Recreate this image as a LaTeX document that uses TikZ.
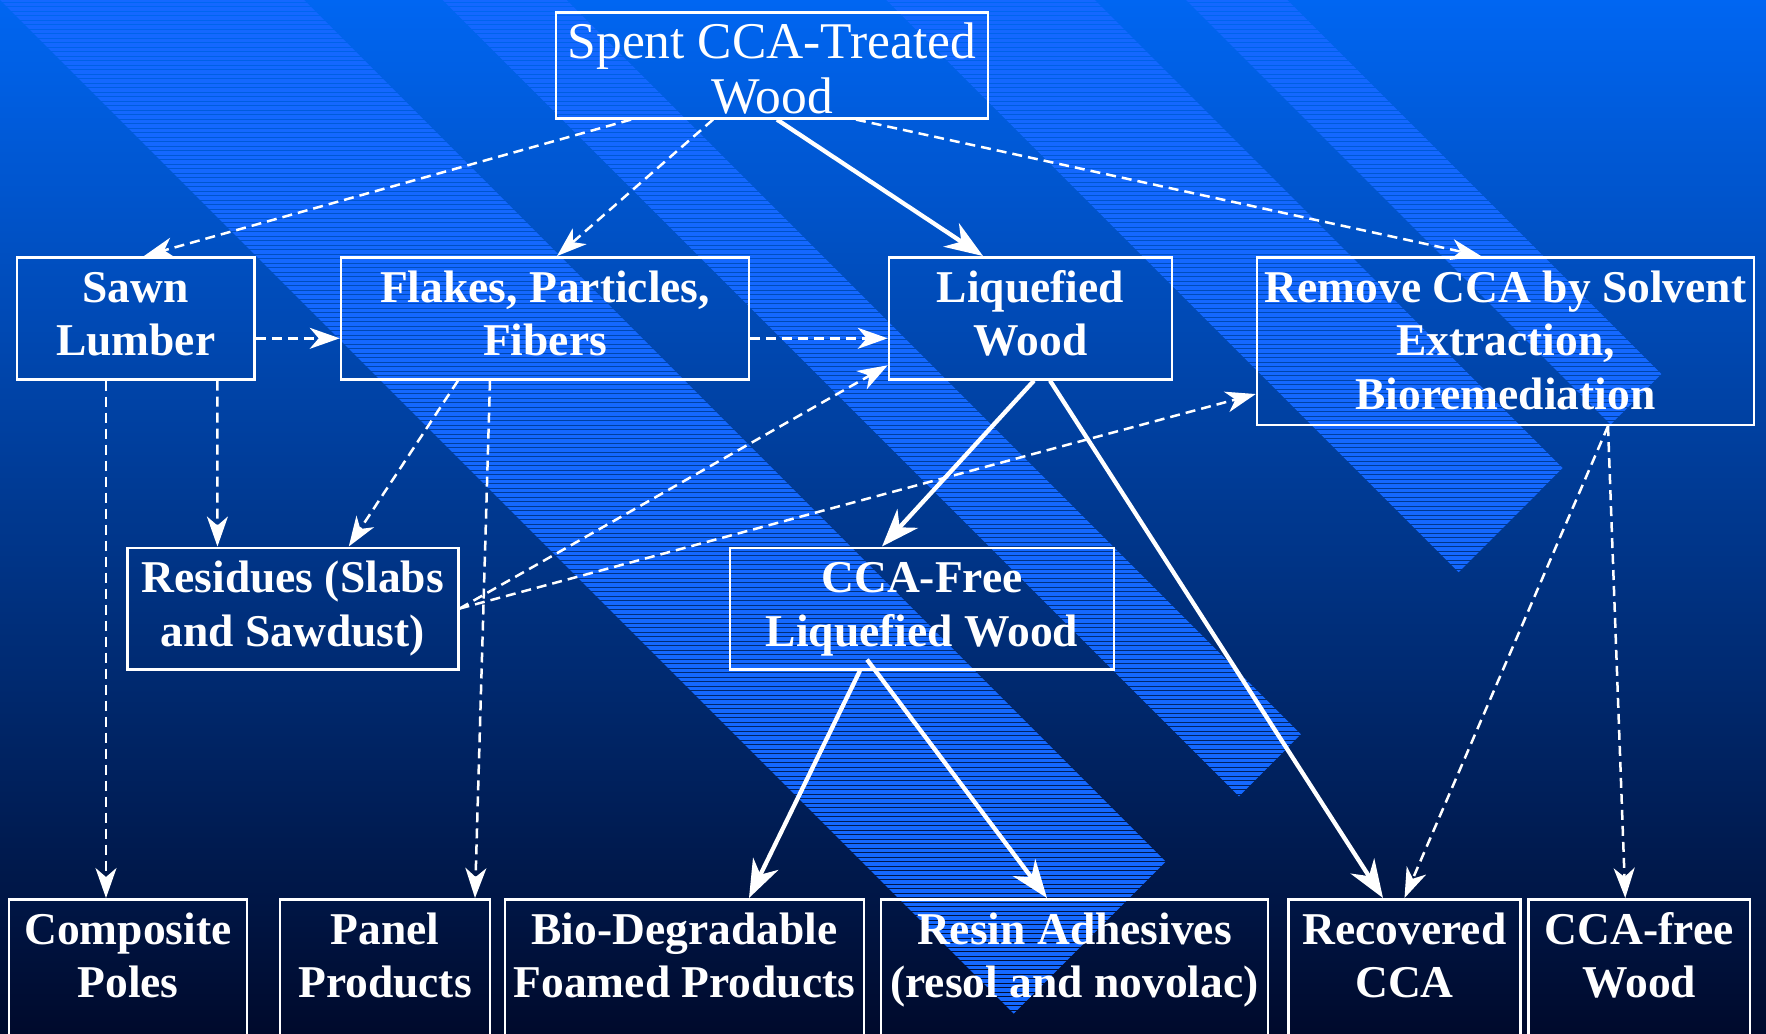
\documentclass[tikz,border=0pt]{standalone}
\usepackage{fontspec}
\setmainfont{Liberation Serif}
\usetikzlibrary{arrows.meta}
\definecolor{bgtop}{RGB}{0,102,242}
\definecolor{bgmid}{RGB}{0,64,168}
\definecolor{bgbot}{RGB}{0,10,44}
\definecolor{stripecol}{RGB}{20,104,255}
\newcommand\myboxfont{\fontsize{45.5}{53.5}\selectfont\bfseries}
\newcommand\mytopfont{\fontsize{51.5}{54.4}\selectfont}
\begin{document}
\begin{tikzpicture}[x=1pt,y=-1pt,
  bbox/.style={draw=white, line width=2.6pt, inner sep=0pt, align=center, text=white, anchor=north, font=\myboxfont, text height=98.5pt},
  solidarr/.style={draw=white, line width=4.3pt, -{Stealth[length=38pt,width=28pt,inset=12pt]}},
  dasharr/.style={draw=white, line width=2.5pt, dash pattern=on 10pt off 6pt, -{Stealth[length=30pt,width=21pt,inset=9pt]}}]
\useasboundingbox (0,0) rectangle (1766,1033);
\shade[top color=bgtop, middle color=bgmid, bottom color=bgbot] (0,0) rectangle (1766,1033);
% diagonal hatched bands
\begin{scope}
\clip (-50,-50) -- (1013.7,1013.7) -- (1165.7,861.6) -- (254,-50) -- cycle
      (392.6,-50) -- (1239,796.3) -- (1300.9,734.3) -- (516.5,-50) -- cycle
      (836.4,-50) -- (1458.6,572.2) -- (1562.7,468) -- (1044.8,-50) -- cycle
      (1136,-50) -- (1610.6,424.6) -- (1661.3,374) -- (1237.4,-50) -- cycle;
\foreach \yy in {0,4.5,...,1036} \draw[stripecol, line width=3.1pt] (-10,\yy) -- (1780,\yy);
\end{scope}
% boxes
\node[bbox, font=\mytopfont, minimum width=432pt, text height=100.9pt, text depth=5.1pt] (spent) at (772,11) {Spent CCA-Treated\\Wood};
\node[bbox, minimum width=237.5pt, text depth=23.5pt] (sawn) at (135.75,256) {Sawn\\Lumber};
\node[bbox, minimum width=408pt, text depth=23.5pt] (flakes) at (545,256) {Flakes, Particles,\\Fibers};
\node[bbox, minimum width=283pt, text depth=23.5pt] (liq) at (1030.5,256) {Liquefied\\Wood};
\node[bbox, minimum width=497pt, text height=152pt, text depth=15.5pt] (remove) at (1505.5,256) {Remove CCA by Solvent\\Extraction,\\Bioremediation};
\node[bbox, minimum width=331pt, text depth=23pt] (resid) at (292.75,546.5) {Residues (Slabs\\and Sawdust)};
\node[bbox, minimum width=384pt, text depth=23pt] (ccafree) at (922,546.5) {CCA-Free\\Liquefied Wood};
\node[bbox, minimum width=238pt, text depth=76.5pt] (comp) at (128,898) {Composite\\Poles};
\node[bbox, minimum width=210pt, text depth=76.5pt] (panel) at (385,898) {Panel\\Products};
\node[bbox, minimum width=359pt, text depth=76.5pt] (bio) at (684.5,898) {Bio-Degradable\\Foamed Products};
\node[bbox, minimum width=387pt, text depth=76.5pt] (resin) at (1074.5,898) {Resin Adhesives\\(resol and novolac)};
\node[bbox, minimum width=232pt, text depth=76.5pt] (recov) at (1404.5,898) {Recovered\\CCA};
\node[bbox, minimum width=221.5pt, text depth=76.5pt] (ccaw) at (1639.25,898) {CCA-free\\Wood};
% connectors
\draw[dasharr] ([xshift=-141pt]spent.south) -- ([xshift=8.25pt]sawn.north);
\draw[dasharr] ([xshift=-59pt]spent.south) -- ([xshift=12pt]flakes.north);
\draw[solidarr] ([xshift=5pt]spent.south) -- ([xshift=-47.5pt]liq.north);
\draw[dasharr] ([xshift=84pt]spent.south) -- ([xshift=-24.5pt]remove.north);
\draw[dasharr] ([yshift=-20pt]sawn.east) -- ([yshift=-20pt]flakes.west);
\draw[dasharr] ([yshift=-20pt]flakes.east) -- ([yshift=-20pt]liq.west);
\draw[dasharr] ([xshift=-29.75pt]sawn.south) -- ([xshift=-22pt]comp.north);
\draw[dasharr] ([xshift=81.6pt]sawn.south) -- ([xshift=-75.3pt]resid.north);
\draw[dasharr] ([xshift=-87pt]flakes.south) -- ([xshift=56pt]resid.north);
\draw[dasharr] ([xshift=-55pt]flakes.south) -- ([xshift=90pt]panel.north);
\draw[dasharr] (resid.east) -- ([yshift=-47pt]liq.west);
\draw[dasharr] (resid.east) -- ([yshift=-53pt]remove.west);
\draw[solidarr] ([xshift=3.5pt]liq.south) -- ([xshift=-40pt]ccafree.north);
\draw[solidarr] ([xshift=19.5pt]liq.south) -- ([xshift=-21.5pt]recov.north);
\draw[dasharr] ([xshift=102.5pt]remove.south) -- (recov.north);
\draw[dasharr] ([xshift=102.5pt]remove.south) -- ([xshift=-14pt]ccaw.north);
\draw[solidarr] ([xshift=-62pt]ccafree.south) -- ([xshift=64.5pt]bio.north);
\draw[solidarr] ([xshift=-55pt,yshift=11pt]ccafree.south) -- ([xshift=-27.5pt]resin.north);
\end{tikzpicture}
\end{document}
